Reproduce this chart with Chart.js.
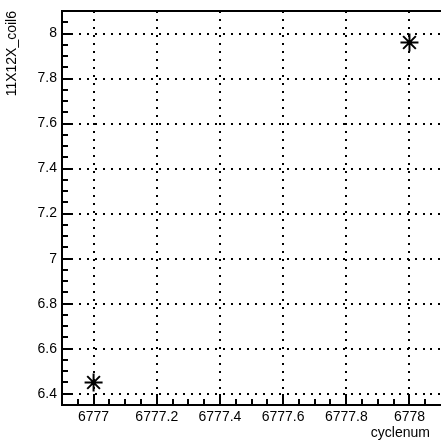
<!DOCTYPE html>
<html>
<head>
<meta charset="utf-8">
<script src="https://cdn.jsdelivr.net/npm/chart.js@4.4.1/dist/chart.umd.min.js"></script>
<style>
    html, body { margin: 0; padding: 0; background: #fff; overflow: hidden; }
    #wrap { width: 441px; height: 443px; overflow: hidden; }
    #graphChart { display: block; }
</style>
</head>
<body>
<div id="wrap"><canvas id="graphChart" width="441" height="443"></canvas></div>
<script>
const cycleNums = [6777, 6778];
const coilValues = [6.45, 7.96];
const xTickValues = [6777, 6777.2, 6777.4, 6777.6, 6777.8, 6778];
const yTickValues = [6.4, 6.6, 6.8, 7, 7.2, 7.4, 7.6, 7.8, 8];
// chart.js keeps ~11px free on the right for the markers, so the axis
// stops a little before 6778.1 (the original frame runs off the canvas)
const xRange = [6776.9, 6778.065];
const yRange = [6.35, 8.1];
const minorStep = 0.05;

const labelFont = { family: "'Liberation Sans', Arial, sans-serif", size: 14 };

function fmt(v) {
    return String(+v.toFixed(1));
}

// ROOT style: ticks drawn inward, top frame line, lines carried to the canvas edge
const rootFrame = {
    id: 'rootFrame',
    afterDraw(chart) {
        const { ctx, chartArea: a, scales: { x, y } } = chart;
        const edge = chart.width;
        ctx.save();
        ctx.strokeStyle = '#000';
        ctx.lineWidth = 2;

        ctx.setLineDash([2, 6]);
        ctx.beginPath();
        yTickValues.forEach(v => {
            const py = Math.round(y.getPixelForValue(v));
            ctx.moveTo(a.right, py);
            ctx.lineTo(edge, py);
        });
        ctx.stroke();

        ctx.setLineDash([]);
        ctx.beginPath();
        ctx.moveTo(a.left, a.top);
        ctx.lineTo(edge, a.top);
        ctx.moveTo(a.right - 1, a.bottom);
        ctx.lineTo(edge, a.bottom);
        for (let k = -10; k <= 40; k++) {
            const v = xTickValues[0] + k * minorStep;
            if (v < xRange[0] || v > xRange[1]) continue;
            const px = Math.round(x.getPixelForValue(v));
            const len = k % 4 === 0 ? 11 : 6;
            ctx.moveTo(px, a.bottom);
            ctx.lineTo(px, a.bottom - len);
        }
        for (let k = -10; k <= 40; k++) {
            const v = yTickValues[0] + k * minorStep;
            if (v < yRange[0] - 1e-9 || v > yRange[1] + 1e-9) continue;
            const py = Math.round(y.getPixelForValue(v));
            const len = k % 4 === 0 ? 11 : 6;
            ctx.moveTo(a.left, py);
            ctx.lineTo(a.left + len, py);
        }
        ctx.stroke();
        ctx.restore();
    }
};

new Chart(document.getElementById('graphChart'), {
    type: 'scatter',
    data: {
        datasets: [{
            data: cycleNums.map((c, i) => ({ x: c, y: coilValues[i] })),
            pointStyle: 'star',
            pointRadius: 9,
            pointHoverRadius: 9,
            pointBorderWidth: 2,
            borderColor: '#000',
            backgroundColor: '#000',
            showLine: false,
            clip: false
        }]
    },
    options: {
        responsive: false,
        animation: false,
        events: [],
        layout: { padding: { top: 11, right: 0, left: 0, bottom: 0 } },
        plugins: { legend: { display: false }, tooltip: { enabled: false } },
        scales: {
            x: {
                type: 'linear',
                min: xRange[0],
                max: xRange[1],
                afterBuildTicks: s => { s.ticks = xTickValues.map(v => ({ value: v })); },
                afterFit: s => {
                    s.height = 38;
                    s.paddingLeft = 0;
                    s.paddingRight = 0;
                },
                ticks: { color: '#000', font: labelFont, padding: 4, maxRotation: 0, autoSkip: false, callback: v => fmt(v) },
                grid: { color: '#000', lineWidth: 2, drawTicks: false },
                border: { display: true, color: '#000', width: 2, dash: [2, 6] },
                title: { display: true, text: 'cyclenum', align: 'end', color: '#000', font: labelFont, padding: { top: 0, bottom: 1 } }
            },
            y: {
                type: 'linear',
                min: yRange[0],
                max: yRange[1],
                afterBuildTicks: s => { s.ticks = yTickValues.map(v => ({ value: v })); },
                afterFit: s => {
                    s.width = 62;
                    s.paddingTop = 0;
                    s.paddingBottom = 0;
                },
                ticks: { color: '#000', font: labelFont, padding: 5, autoSkip: false, callback: v => fmt(v) },
                grid: { color: '#000', lineWidth: 2, drawTicks: false },
                border: { display: true, color: '#000', width: 2, dash: [2, 6] },
                title: { display: true, text: '11X12X_coil6', align: 'end', color: '#000', font: labelFont, padding: { top: 4, bottom: 0 } }
            }
        }
    },
    plugins: [rootFrame]
});
</script>
</body>
</html>
